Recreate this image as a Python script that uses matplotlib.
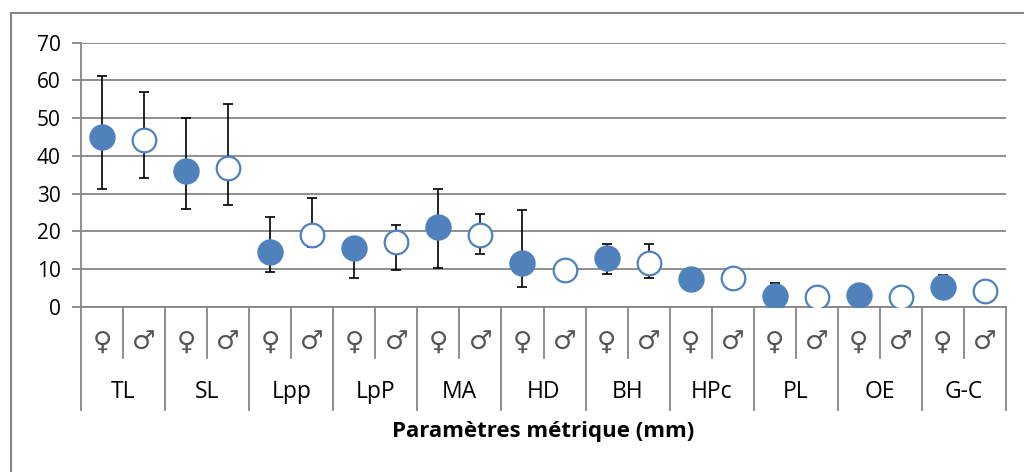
import matplotlib
matplotlib.use("Agg")
import matplotlib.pyplot as plt
from matplotlib.patches import Rectangle
import numpy as np

groups = ['TL', 'SL', 'Lpp', 'LpP', 'MA', 'HD', 'BH', 'HPc', 'PL', 'OE', 'G-C']
sex_labels = ['\u2640', '\u2642']

female_mean = [45.1, 36.1, 14.4, 15.5, 21.2, 11.5, 12.8, 7.3, 2.8, 3.1, 5.1]
female_err_low = [13.9, 10.2, 5.2, 7.9, 10.9, 6.2, 4.1, 2.0, 1.5, 1.5, 2.0]
female_err_high = [16.2, 13.9, 9.3, 2.5, 9.9, 14.1, 3.7, 2.0, 3.4, 1.5, 3.3]

male_mean = [44.2, 36.7, 19.0, 17.2, 19.0, 9.7, 11.5, 7.7, 2.65, 2.65, 4.2]
male_err_low = [10.1, 9.8, 3.2, 7.5, 5.0, 2.0, 3.9, 2.0, 1.5, 1.5, 1.5]
male_err_high = [12.6, 17.0, 9.8, 4.5, 5.5, 2.0, 5.0, 2.0, 1.5, 1.5, 1.5]

yticks = [0, 10, 20, 30, 40, 50, 60, 70]
xlabel = 'Paramètres métrique (mm)'

BLUE = '#4F81BD'
GRID = '#868686'
FONT = ['Open Sans', 'DejaVu Sans']

plt.rcParams['font.family'] = FONT

W, H = 1024, 472
fig = plt.figure(figsize=(W / 100, H / 100), dpi=100)
left, right, top, bottom = 81, 1006, 42.7, 306.7
ax = fig.add_axes([left / W, 1 - bottom / H, (right - left) / W, (bottom - top) / H])

n = len(groups)
xf = np.arange(n) * 2
xm = xf + 1

ax.errorbar(xf, female_mean, yerr=[female_err_low, female_err_high], fmt='none',
            ecolor='black', elinewidth=1.2, capsize=3.6, capthick=1.2, zorder=3)
ax.errorbar(xm, male_mean, yerr=[male_err_low, male_err_high], fmt='none',
            ecolor='black', elinewidth=1.2, capsize=3.6, capthick=1.2, zorder=3)
ax.plot(xf, female_mean, 'o', ms=18, mfc=BLUE, mec=BLUE, mew=1.0, zorder=4, linestyle='none')
ax.plot(xm, male_mean, 'o', ms=17, mfc='white', mec=BLUE, mew=1.6, zorder=4, linestyle='none')

ax.set_xlim(-0.5, 2 * n - 0.5)
ax.set_ylim(0, 70)
ax.set_yticks(yticks)
ax.set_yticklabels([str(v) for v in yticks], fontsize=15)
ax.yaxis.grid(True, color=GRID, linewidth=1.3)
ax.set_axisbelow(True)
for s in ['top', 'right']:
    ax.spines[s].set_visible(False)
ax.spines['left'].set_color(GRID)
ax.spines['left'].set_linewidth(1.3)
ax.spines['bottom'].set_color(GRID)
ax.spines['bottom'].set_linewidth(1.3)
ax.tick_params(axis='y', length=6.5, width=1.3, color=GRID, pad=8, labelcolor='black')
ax.set_xticks([])

tr = ax.get_xaxis_transform()
axh = bottom - top
small_y = -(358 - bottom) / axh
big_y = -(410 - bottom) / axh
sym_y = -(343 - bottom) / axh
grp_y = -(392 - bottom) / axh
ttl_y = -(431 - bottom) / axh

for k in range(2 * n + 1):
    x = k - 0.5
    yb = big_y if k % 2 == 0 else small_y
    ax.plot([x, x], [0, yb], transform=tr, color=GRID, lw=1.3, clip_on=False)

SYM_FONT = ['DejaVu Sans']
for i in range(n):
    ax.text(xf[i], sym_y, sex_labels[0], transform=tr, ha='center', va='center',
            fontsize=19, family=SYM_FONT, color='#555555')
    ax.text(xm[i], sym_y, sex_labels[1], transform=tr, ha='center', va='center',
            fontsize=19, family=SYM_FONT, color='#555555')
    ax.text(xf[i] + 0.5, grp_y, groups[i], transform=tr, ha='center', va='center',
            fontsize=16.5, color='black')

ax.text(0.5, ttl_y, xlabel, transform=ax.transAxes, ha='center', va='center',
        fontsize=16, fontweight='bold', color='black')

fig.patches.append(Rectangle((11 / W, -0.2), 1.5, (1 - 13 / H) + 0.2,
                             transform=fig.transFigure, fill=False,
                             edgecolor=GRID, linewidth=1.5))

fig.savefig('out.png', dpi=100)
